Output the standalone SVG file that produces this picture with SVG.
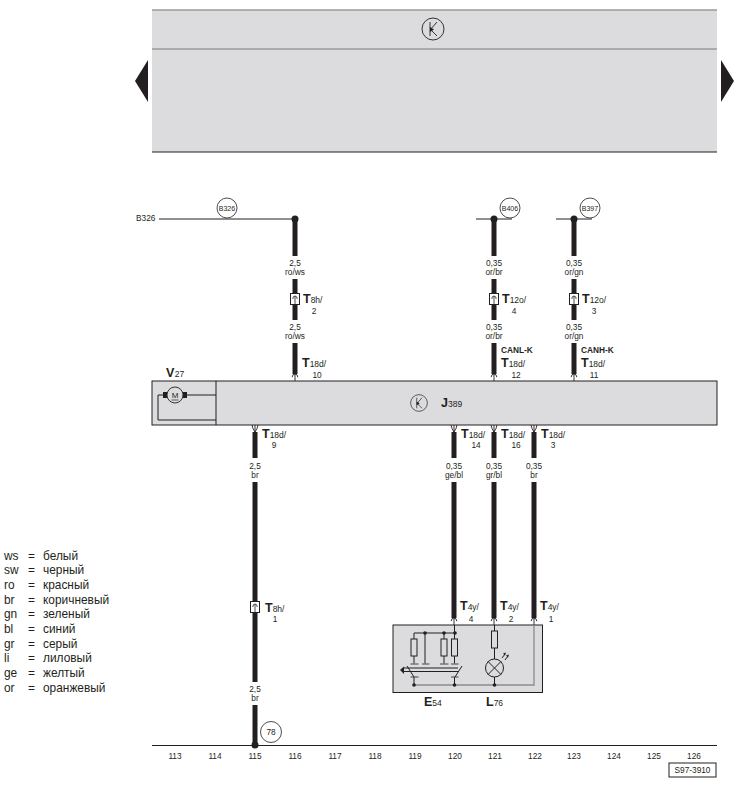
<svg xmlns="http://www.w3.org/2000/svg" xmlns:xlink="http://www.w3.org/1999/xlink" width="738" height="786" viewBox="0 0 738 786">
<style>
text{font-family:"Liberation Sans",Arial,"Noto Sans",sans-serif;fill:#231f20}
.s{font-size:8.3px;text-anchor:middle}
.n{font-size:8.3px}
.c{font-size:7px;text-anchor:middle}
.t{font-size:12.5px;font-weight:bold}
.t tspan{font-size:8.5px;font-weight:normal}
.can{font-size:8.3px;font-weight:bold}
.lg{font-size:11.9px}
.w{stroke:#231f20;stroke-width:5;fill:none}
.l{stroke:#231f20;stroke-width:1;fill:none}
.l2{stroke:#231f20;stroke-width:1;fill:none}
.d{fill:#231f20}
.p{fill:#dcdcde}
.g{stroke:#9a9a9c;stroke-width:1.5;fill:none}
.gt{stroke:#77777a;stroke-width:1.6;fill:none}
</style>
<defs>
<g id="k"><circle r="11" fill="none" stroke="#231f20" stroke-width="0.9"/><path d="M-3-7V7M4-7L-2.5 0.5L4 7" fill="none" stroke="#231f20" stroke-width="0.9"/><path d="M-3-2V3L1 0.5Z" fill="#231f20"/></g>
<g id="au"><path d="M0 0V7M-2.800 3.200Q-2.600 0 0 0Q2.600 0 2.800 3.200" fill="none" stroke="#231f20" stroke-width="0.9"/></g>
<g id="ad"><path d="M-3 0L-2 3.500L0 7L2 3.500L3 0M0 0V7" fill="none" stroke="#231f20" stroke-width="0.9"/></g>
<g id="cn"><rect x="-4.500" y="-5.500" width="9" height="11" fill="#fff" stroke="#231f20" stroke-width="1"/><path d="M-2.200 0Q-2.200-3 0-3Q2.200-3 2.200 0M0-3V5" fill="none" stroke="#231f20" stroke-width="0.8"/></g>
<g id="res"><rect x="-3" y="0" width="6" height="17" fill="none" stroke="#231f20" stroke-width="1"/></g>
</defs>

<g id="top-panel">
<rect class="p" x="152" y="10" width="565" height="142"/>
<path class="g" d="M152 10H717M152 49H717"/>
<path d="M152 152H717" stroke="#231f20" stroke-width="1"/>
<use xlink:href="#k" href="#k" x="433" y="29"/>
</g>
<g id="nav-left"><polygon class="d" points="135,81 148,60 148,102"/></g>
<g id="nav-right"><polygon class="d" points="721,60 734,81 721,102"/></g>

<g id="J389">
<rect class="p" x="152" y="381" width="565" height="44" stroke="#231f20" stroke-width="1"/>
<use xlink:href="#k" href="#k" transform="translate(419,403) scale(0.76)"/>
<text class="t" x="441" y="407">J<tspan>389</tspan></text>
</g>
<g id="V27">
<path class="l" d="M216 381V425"/>
<path class="l" d="M163 395H158V420H216M183 395H216"/>
<rect class="d" x="163" y="392" width="4" height="6"/>
<rect class="d" x="183" y="392" width="4" height="6"/>
<circle cx="175" cy="395" r="8" fill="#dcdcde" stroke="#231f20" stroke-width="0.9"/>
<text x="175" y="398" font-size="8" text-anchor="middle">M</text>
<path d="M171.500 400H178.500" stroke="#231f20" stroke-width="0.7"/>
<text class="t" x="166" y="377">V<tspan dx="0.500">27</tspan></text>
</g>

<g id="connectors">
<path class="l2" d="M159 219H295M476 219H512M556 219H592"/>
<path class="w" d="M295 219V256M295 279V320M295 343V374"/>
<path class="w" d="M494 219V256M494 279V320M494 343V374"/>
<path class="w" d="M574 219V256M574 279V320M574 343V374"/>
<path class="w" d="M255 432V458M255 482V682M255 705V745"/>
<path class="w" d="M454 432V458M454 482V618"/>
<path class="w" d="M494 432V458M494 482V618"/>
<path class="w" d="M534 432V458M534 482V618"/>
<circle class="d" cx="295" cy="219" r="3.500"/>
<circle class="d" cx="494" cy="219" r="3.500"/>
<circle class="d" cx="574" cy="219" r="3.500"/>
<use xlink:href="#au" href="#au" x="295" y="374"/>
<use xlink:href="#au" href="#au" x="494" y="374"/>
<use xlink:href="#au" href="#au" x="574" y="374"/>
<use xlink:href="#ad" href="#ad" x="255" y="425"/>
<use xlink:href="#ad" href="#ad" x="454" y="425"/>
<use xlink:href="#ad" href="#ad" x="494" y="425"/>
<use xlink:href="#ad" href="#ad" x="534" y="425"/>
</g>

<g id="wire-labels">
<text class="s" x="295" y="266">2,5</text><text class="s" x="295" y="275">ro/ws</text>
<text class="s" x="295" y="330">2,5</text><text class="s" x="295" y="339">ro/ws</text>
<text class="s" x="494" y="266">0,35</text><text class="s" x="494" y="275">or/br</text>
<text class="s" x="494" y="330">0,35</text><text class="s" x="494" y="339">or/br</text>
<text class="s" x="574" y="266">0,35</text><text class="s" x="574" y="275">or/gn</text>
<text class="s" x="574" y="330">0,35</text><text class="s" x="574" y="339">or/gn</text>
<text class="s" x="255" y="469">2,5</text><text class="s" x="255" y="478">br</text>
<text class="s" x="255" y="692">2,5</text><text class="s" x="255" y="701">br</text>
<text class="s" x="454" y="469">0,35</text><text class="s" x="454" y="478">ge/bl</text>
<text class="s" x="494" y="469">0,35</text><text class="s" x="494" y="478">gr/bl</text>
<text class="s" x="534" y="469">0,35</text><text class="s" x="534" y="478">br</text>
</g>

<g id="T8h-2"><use xlink:href="#cn" href="#cn" x="295" y="299"/><text class="t" x="303" y="303">T<tspan>8h/</tspan></text><text class="s" x="314" y="314">2</text></g>
<g id="T12o-4"><use xlink:href="#cn" href="#cn" x="494" y="299"/><text class="t" x="502" y="303">T<tspan>12o/</tspan></text><text class="s" x="514" y="314">4</text></g>
<g id="T12o-3"><use xlink:href="#cn" href="#cn" x="574" y="299"/><text class="t" x="582" y="303">T<tspan>12o/</tspan></text><text class="s" x="594" y="314">3</text></g>
<g id="T8h-1"><use xlink:href="#cn" href="#cn" x="255" y="607"/><text class="t" x="265" y="612">T<tspan>8h/</tspan></text><text class="s" x="275" y="622">1</text></g>

<g id="pins">
<text class="t" x="302" y="367">T<tspan>18d/</tspan></text><text class="s" x="317" y="378">10</text>
<text class="can" x="501" y="353">CANL-K</text>
<text class="t" x="501" y="367">T<tspan>18d/</tspan></text><text class="s" x="516" y="378">12</text>
<text class="can" x="581" y="353">CANH-K</text>
<text class="t" x="581" y="367">T<tspan>18d/</tspan></text><text class="s" x="594" y="378">11</text>
<text class="t" x="262" y="438">T<tspan>18d/</tspan></text><text class="s" x="274" y="448">9</text>
<text class="t" x="461" y="438">T<tspan>18d/</tspan></text><text class="s" x="476" y="448">14</text>
<text class="t" x="501" y="438">T<tspan>18d/</tspan></text><text class="s" x="516" y="448">16</text>
<text class="t" x="541" y="438">T<tspan>18d/</tspan></text><text class="s" x="553" y="448">3</text>
<text class="t" x="460" y="610">T<tspan>4y/</tspan></text><text class="s" x="471" y="622">4</text>
<text class="t" x="500" y="610">T<tspan>4y/</tspan></text><text class="s" x="511" y="622">2</text>
<text class="t" x="540" y="610">T<tspan>4y/</tspan></text><text class="s" x="551" y="622">1</text>
</g>

<g id="B326"><text class="n" x="136" y="221">B326</text><circle cx="227" cy="208" r="10" fill="#fff" stroke="#231f20" stroke-width="0.8"/><text class="c" x="227" y="210.500">B326</text></g>
<g id="B406"><circle cx="510" cy="208" r="10" fill="#fff" stroke="#231f20" stroke-width="0.8"/><text class="c" x="510" y="210.500">B406</text></g>
<g id="B397"><circle cx="590" cy="208" r="10" fill="#fff" stroke="#231f20" stroke-width="0.8"/><text class="c" x="590" y="210.500">B397</text></g>

<g id="E54-L76">
<rect class="p" x="393" y="625" width="149.500" height="67.500" stroke="#231f20" stroke-width="1"/>
<path d="M534 625V685H414" fill="none" stroke="#8c8c8e" stroke-width="1.300"/>
<use xlink:href="#au" href="#au" x="454" y="618"/>
<use xlink:href="#au" href="#au" x="494" y="618"/>
<use xlink:href="#au" href="#au" x="534" y="618"/>
<path class="l" d="M454.500 625V639M414 639V633H455M425 633V664M444 633V639M414 656V664M444 656V664M454.500 656V664"/>
<use xlink:href="#res" href="#res" x="414" y="639"/>
<use xlink:href="#res" href="#res" x="444" y="639"/>
<use xlink:href="#res" href="#res" x="454.500" y="639"/>
<circle class="d" cx="425" cy="633" r="1.800"/><circle class="d" cx="444" cy="633" r="1.800"/><circle class="d" cx="455" cy="633" r="1.800"/>
<path class="gt" d="M410.500 664H418.500M422 664H429.500M440 664H448.500M451 664H458.500M410.500 677H418.500M451 677H458.500"/>
<path class="l2" stroke-width="1.300" d="M403 668H458M403 671.500H458"/>
<path class="l" d="M407 666L414 677M462 666L455 677M414 677V685M454.500 677V685"/>
<polygon class="d" points="400,670 404,666.500 404,674"/>
<circle class="d" cx="414" cy="685" r="1.800"/><circle class="d" cx="454.500" cy="685" r="1.800"/><circle class="d" cx="494.500" cy="685" r="1.800"/>
<path class="l" d="M494.500 625V631M494.500 648V659M494.500 677V685"/>
<use xlink:href="#res" href="#res" x="494.500" y="631"/>
<circle cx="494.500" cy="668" r="9" fill="none" stroke="#231f20" stroke-width="1"/>
<path class="l" d="M488 661.500L501 674.500M501 661.500L488 674.500M502 658L505 654M505 660L508 656"/>
<path class="d" d="M506 652.500L503 653.500L505 655.500ZM509 654.500L506 655.500L508 657.500Z"/>
<text class="t" x="424" y="706">E<tspan>54</tspan></text>
<text class="t" x="486" y="706">L<tspan>76</tspan></text>
</g>

<g id="legend">
<text class="lg" x="4" y="560">ws</text><text class="lg" x="28" y="560">=</text><text class="lg" x="43" y="560">белый</text>
<text class="lg" x="4" y="574">sw</text><text class="lg" x="28" y="574">=</text><text class="lg" x="43" y="574">черный</text>
<text class="lg" x="4" y="589">ro</text><text class="lg" x="28" y="589">=</text><text class="lg" x="43" y="589">красный</text>
<text class="lg" x="4" y="604">br</text><text class="lg" x="28" y="604">=</text><text class="lg" x="43" y="604">коричневый</text>
<text class="lg" x="4" y="618">gn</text><text class="lg" x="28" y="618">=</text><text class="lg" x="43" y="618">зеленый</text>
<text class="lg" x="4" y="633">bl</text><text class="lg" x="28" y="633">=</text><text class="lg" x="43" y="633">синий</text>
<text class="lg" x="4" y="648">gr</text><text class="lg" x="28" y="648">=</text><text class="lg" x="43" y="648">серый</text>
<text class="lg" x="4" y="662">li</text><text class="lg" x="28" y="662">=</text><text class="lg" x="43" y="662">лиловый</text>
<text class="lg" x="4" y="677">ge</text><text class="lg" x="28" y="677">=</text><text class="lg" x="43" y="677">желтый</text>
<text class="lg" x="4" y="692">or</text><text class="lg" x="28" y="692">=</text><text class="lg" x="43" y="692">оранжевый</text>
</g>

<g id="axis">
<path d="M152 745.500H717" stroke="#231f20" stroke-width="1"/>
<circle class="d" cx="255" cy="745" r="3.500"/>
<text class="s" x="175" y="759">113</text><text class="s" x="215" y="759">114</text><text class="s" x="255" y="759">115</text><text class="s" x="295" y="759">116</text><text class="s" x="335" y="759">117</text><text class="s" x="375" y="759">118</text><text class="s" x="415" y="759">119</text><text class="s" x="455" y="759">120</text><text class="s" x="495" y="759">121</text><text class="s" x="535" y="759">122</text><text class="s" x="574" y="759">123</text><text class="s" x="614" y="759">124</text><text class="s" x="654" y="759">125</text><text class="s" x="694" y="759">126</text>
</g>
<g id="ground-78"><circle cx="271" cy="732" r="10.500" fill="#fff" stroke="#231f20" stroke-width="0.8"/><text class="s" x="271" y="735">78</text></g>
<g id="drawing-number"><rect x="669" y="763" width="47" height="14" fill="#fff" stroke="#231f20" stroke-width="1"/><text class="s" x="692.500" y="773">S97-3910</text></g>
</svg>
